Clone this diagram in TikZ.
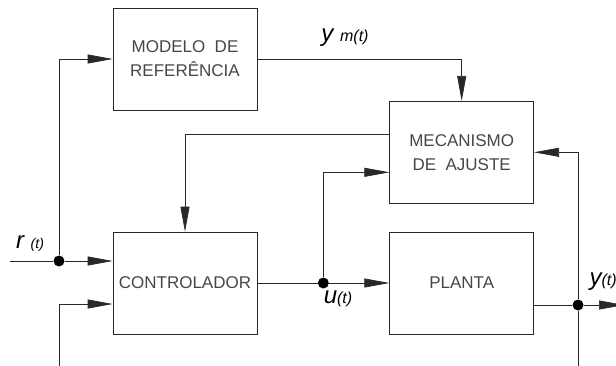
\documentclass[tikz,border=0pt]{standalone}
\usepackage{fontspec}
\setmainfont{Liberation Sans}
\usetikzlibrary{arrows.meta,positioning,calc}
\definecolor{cadline}{RGB}{40,40,40}
\definecolor{cadtext}{RGB}{70,70,70}

\begin{document}
\begin{tikzpicture}[x=1pt,y=-1pt,
    blk/.style={draw=cadline,line width=0.7pt,minimum width=144pt,minimum height=102pt,
      inner sep=0pt,align=center,font=\fontsize{17}{24}\selectfont,text=cadtext},
    arr/.style={-{Triangle[length=25pt,width=9pt]},line width=0.7pt,draw=cadline},
    wire/.style={line width=0.7pt,draw=cadline},
    dot/.style={circle,fill=black,inner sep=0pt,minimum size=11pt},
    sig/.style={font=\fontsize{24}{26}\selectfont\itshape}
  ]
    \useasboundingbox (0,0) rectangle (616,365);
    \node[blk] (ctrl) at (185,283) {CONTROLADOR};
    \node[blk,right=132pt of ctrl] (plant) {PLANTA};
    \node[blk,above=28pt of plant] (adj) {MECANISMO\\DE\ \ AJUSTE};
    \node[blk] (model) at (185,59) {MODELO\ \ DE\\REFERÊNCIA};
    \coordinate (rin) at (10,261);
    \node[dot] (rdot) at (59,261) {};
    \coordinate (fbl) at (59,366);
    \coordinate (fbin) at (59,304);
    \node[dot] (udot) at ($(ctrl.east)!0.5!(plant.west)$) {};
    \node[dot] (ydot) at (578,305) {};
    \coordinate (fbr) at (578,366);
    \coordinate (yout) at (624,305);
    % inputs
    \draw[wire] (rin) -- (rdot);
    \draw[arr] (rdot) -- (rdot -| ctrl.west);
    \draw[arr] (rdot) |- (model.west);
    \draw[arr] (fbl) -- (fbin) -- (fbin -| ctrl.west);
    % adaptation loop
    \draw[arr] (model.east) -| (adj.north);
    \draw[arr] ($(adj.west)+(0,18pt)$) -| (ctrl.north);
    \draw[wire] (ctrl.east) -- (udot);
    \draw[arr] (udot) -- (plant.west);
    \draw[arr] (udot) |- ($(adj.west)+(0,-20pt)$);
    % output
    \draw[wire] ($(plant.east)+(0,-22pt)$) -- (ydot);
    \draw[arr] (ydot) -- (yout);
    \draw[arr] (ydot) |- (adj.east);
    \draw[wire] (ydot) -- (fbr);
    % labels
    \node[sig] (rlbl) at (30,243) {r \fontsize{14}{16}\selectfont(t)};
    \node[sig] (ulbl) at (338,299) {u\fontsize{16}{18}\selectfont(t)};
    \node[sig] (ymlbl) at (345,38) {y \fontsize{16}{18}\selectfont m(t)};
    \node[sig,anchor=west] (ylbl) at (586,282) {y\fontsize{16}{18}\selectfont(t)};
  \end{tikzpicture}
\end{document}
